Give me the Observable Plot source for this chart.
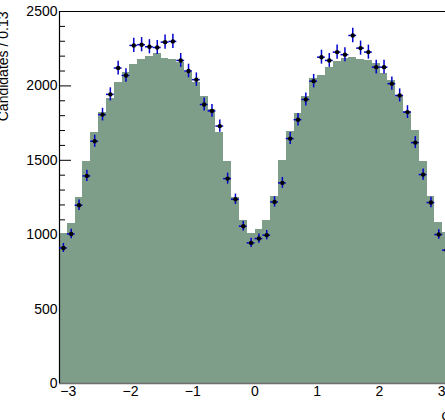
<!DOCTYPE html>
<html>
<head>
<meta charset="utf-8">
<script src="https://cdn.jsdelivr.net/npm/d3@7"></script>
<script src="https://cdn.jsdelivr.net/npm/@observablehq/plot@0.6"></script>
<style>
  html, body { margin: 0; padding: 0; background: white; overflow: hidden; }
  #chart { width: 445px; height: 420px; overflow: hidden; }
  #chart svg { max-width: none !important; display: block; }
</style>
</head>
<body>
<div id="chart"></div>
<script>
// Histogram definition: 50 bins over [-pi, pi]
const nBins = 50;
const phiMin = -Math.PI;
const phiMax = Math.PI;

// Filled histogram (model) contents per bin
const histValues = [
  1010, 1077, 1250, 1495, 1690, 1820, 1918, 2021, 2089, 2142,
  2180, 2200, 2218, 2185, 2177, 2155, 2090, 2025, 1930, 1840,
  1690, 1490, 1250, 1097, 1008, 1037, 1093, 1256, 1500, 1695,
  1813, 1930, 2048, 2070, 2126, 2164, 2186, 2191, 2176, 2169,
  2149, 2086, 2037, 1936, 1829, 1701, 1495, 1254, 1079, 1015
];

// Data points (counts) per bin
const dataValues = [
  911, 1005, 1198, 1395, 1628, 1807, 1943, 2120, 2070, 2272,
  2277, 2263, 2258, 2294, 2299, 2171, 2100, 2042, 1875, 1832,
  1730, 1377, 1238, 1057, 945, 974, 997, 1220, 1348, 1646,
  1773, 1909, 2032, 2193, 2171, 2227, 2210, 2339, 2254, 2227,
  2126, 2126, 2015, 1936, 1824, 1619, 1404, 1216, 1001, 896
];

const xTickValues = [-3, -2, -1, 0, 1, 2, 3];
const yMajorTicks = [0, 500, 1000, 1500, 2000, 2500];
const yMinorTicks = [100, 200, 300, 400, 600, 700, 800, 900, 1100, 1200, 1300, 1400,
                     1600, 1700, 1800, 1900, 2100, 2200, 2300, 2400];
const yTitle = "Candidates / 0.13";
const xTitle = "φ";

const binW = (phiMax - phiMin) / nBins;
const rows = histValues.map((h, i) => ({
  x1: phiMin + i * binW,
  x2: phiMin + (i + 1) * binW,
  xc: phiMin + (i + 0.5) * binW,
  h,
  n: dataValues[i]
}));

const fillColor = "#7f9e8a";
const errColor = "#0000cc";

const chart = Plot.plot({
  width: 460,
  height: 420,
  marginLeft: 59,
  marginRight: 10,
  marginTop: 11,
  marginBottom: 37,
  x: { domain: [phiMin, phiMax] },
  y: { domain: [0, 2500] },
  style: { fontFamily: "'Liberation Sans', Arial, sans-serif", fontSize: "14px", background: "white", color: "black", maxWidth: "none" },
  marks: [
    Plot.axisY(yMinorTicks, { tickSize: -6, fill: "none", label: null, strokeWidth: 1 }),
    Plot.axisY(yMajorTicks, { tickSize: -12, fill: "none", label: null, strokeWidth: 1 }),
    Plot.axisY(yMajorTicks, { tickSize: 0, tickPadding: 2, label: null, fontSize: 14, tickFormat: d => String(d) }),
    Plot.axisX(xTickValues, { tickSize: 0, tickPadding: 3, label: null, fontSize: 14 }),
    Plot.rectY(rows, { x1: "x1", x2: "x2", y: "h", fill: fillColor, shapeRendering: "crispEdges" }),
    Plot.ruleY([0], { stroke: "#6e6e6e", strokeWidth: 1.5 }),
    Plot.ruleY([2500], { stroke: "black", strokeWidth: 1 }),
    Plot.ruleX([phiMin], { stroke: "black", strokeWidth: 1.2 }),
    Plot.ruleX([phiMax], { stroke: "black", strokeWidth: 1 }),
    Plot.ruleX(rows, { x: "xc", y1: d => d.n - Math.sqrt(d.n), y2: d => d.n + Math.sqrt(d.n), stroke: errColor, strokeWidth: 1.5 }),
    Plot.ruleY(rows, { y: "n", x1: d => d.xc - binW / 2, x2: d => d.xc + binW / 2, stroke: errColor, strokeWidth: 1.5 }),
    Plot.dot(rows, { x: "xc", y: "n", r: 2.2, fill: "black", stroke: null }),
    Plot.text([yTitle], { frameAnchor: "top-left", rotate: -90, textAnchor: "end", dx: -61, fontSize: 14, fill: "black" }),
    Plot.text([xTitle], { frameAnchor: "bottom-right", textAnchor: "end", lineAnchor: "top", dy: 27, fontSize: 14, fill: "black" })
  ]
});
document.getElementById("chart").appendChild(chart);
</script>
</body>
</html>
